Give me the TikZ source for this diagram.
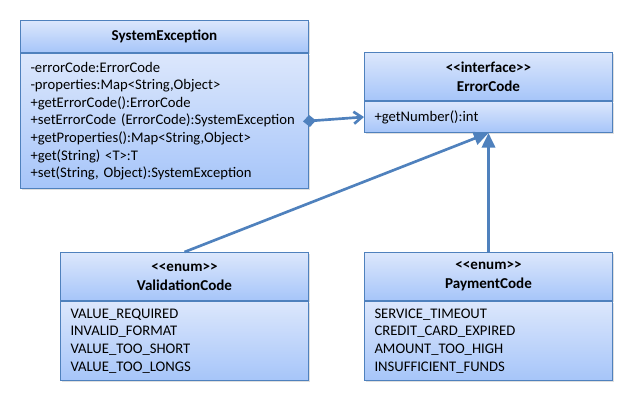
\documentclass[tikz,border=0pt]{standalone}
\usepackage{fontspec}
\setmainfont{Carlito}[Ligatures=TeXOff]
\usetikzlibrary{arrows.meta,shadows}
\frenchspacing

\begin{document}
\begin{tikzpicture}[x=0.75pt,y=-0.75pt,
  classhead/.style={draw=linecolor,line width=0.75pt,top color=topcolor,bottom color=bottomcolor,
    drop shadow={shadow xshift=1.2pt,shadow yshift=-1.2pt,opacity=0.25},
    font=\bfseries\fontsize{11.3pt}{14.25pt}\selectfont,align=center,anchor=north west,
    inner sep=0pt,minimum height=#1},
  classbody/.style={draw=linecolor,line width=0.75pt,top color=topcolor,bottom color=bottomcolor,
    drop shadow={shadow xshift=1.2pt,shadow yshift=-1.2pt,opacity=0.25},
    font=\fontsize{11pt}{13.2pt}\selectfont,align=left,anchor=north west,
    inner xsep=7.5pt,inner ysep=0pt,minimum height=#1},
  linkline/.style={draw=linecolor,line width=2pt}]
\definecolor{topcolor}{RGB}{220,231,252}
\definecolor{bottomcolor}{RGB}{166,197,249}
\definecolor{linecolor}{RGB}{79,129,189}
\useasboundingbox (0,0) rectangle (638,402);
\node [classhead=24pt,minimum width=216pt] (syshead) at (20,20) {SystemException};
\node [classbody=101.25pt,text width=201pt] (sysbody) at (syshead.south west)
  {-errorCode:ErrorCode\\-properties:Map<String,Object>\\+getErrorCode():ErrorCode\\
   +setErrorCode (ErrorCode):SystemException\\+getProperties():Map<String,Object>\\
   +get(String) <T>:T\\+set(String, Object):SystemException};
\node [classhead=36pt,minimum width=186pt] (errhead) at (364,52) {<<interface>>\\ErrorCode};
\node [classbody=23.25pt,text width=171pt] (errbody) at (errhead.south west) {+getNumber():int};
\node [classhead=36pt,minimum width=186pt] (valhead) at (60,252) {<<enum>>\\ValidationCode};
\node [classbody=59.25pt,text width=171pt] (valbody) at (valhead.south west)
  {VALUE\_REQUIRED\\INVALID\_FORMAT\\VALUE\_TOO\_SHORT\\VALUE\_TOO\_LONGS};
\node [classhead=36pt,minimum width=186pt] (payhead) at (364,252) {<<enum>>\\PaymentCode};
\node [classbody=59.25pt,text width=171pt] (paybody) at (payhead.south west)
  {SERVICE\_TIMEOUT\\CREDIT\_CARD\_EXPIRED\\AMOUNT\_TOO\_HIGH\\INSUFFICIENT\_FUNDS};
\draw [linkline,{Diamond[length=9.75pt,width=9pt]}-{Straight Barb[length=6pt,width=9pt]},shorten <=-4.5pt] (sysbody.east) -- (errbody.west);
\draw [linkline,-{Triangle[length=11pt,width=10pt]}] (valhead.north) -- (errbody.south);
\draw [linkline,-{Triangle[length=11pt,width=10pt]}] (payhead.north) -- (errbody.south);
\end{tikzpicture}
\end{document}
